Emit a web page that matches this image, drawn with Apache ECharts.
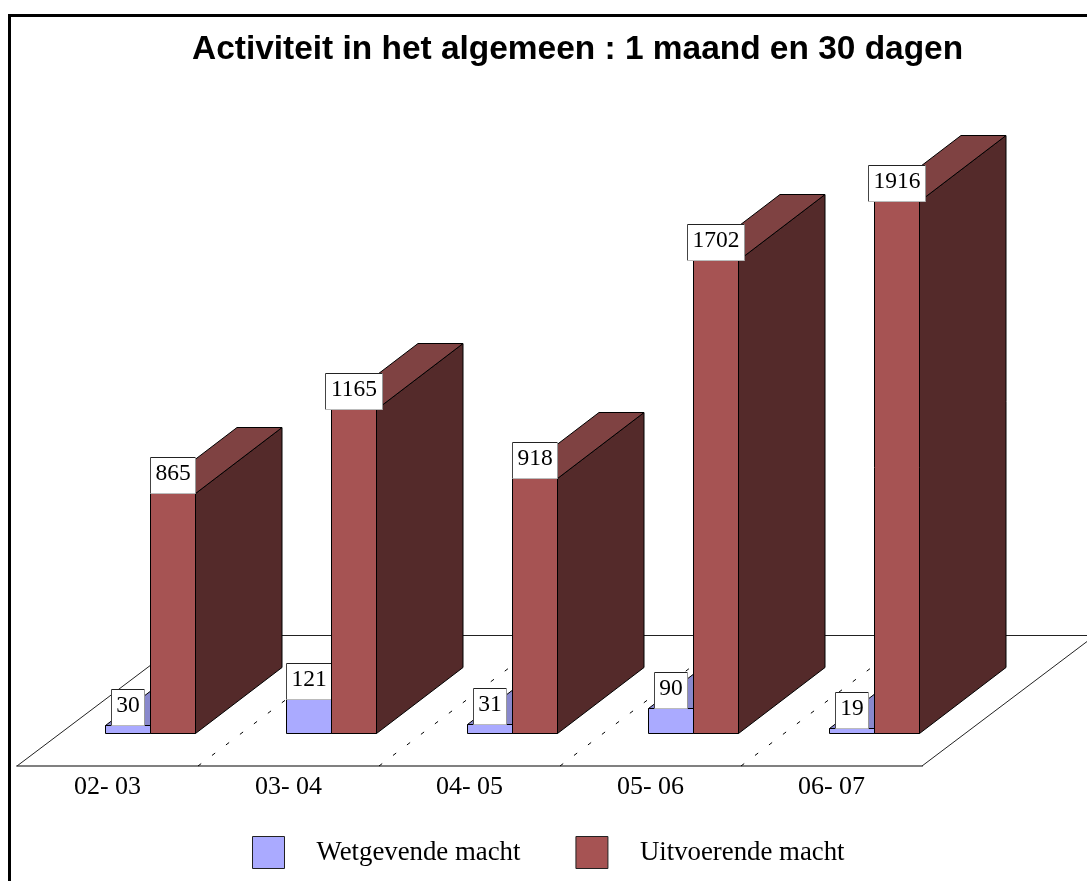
<!DOCTYPE html>
<html><head><meta charset="utf-8">
<style>html,body{margin:0;padding:0;background:#fff}#c{width:1087px;height:881px}</style>
<script src="https://cdn.jsdelivr.net/npm/echarts@6/dist/echarts.min.js"></script>
</head><body><div id="c"></div>
<script>
const titleText = 'Activiteit in het algemeen : 1 maand en 30 dagen';
const categories = ['02- 03', '03- 04', '04- 05', '05- 06', '06- 07'];
const wetgevende = [30, 121, 31, 90, 19];
const uitvoerende = [865, 1165, 918, 1702, 1916];
const seriesNames = ['Wetgevende macht', 'Uitvoerende macht'];

const SERIF = '"Liberation Serif","Times New Roman",serif';
const DEPTH_X = 86.5, DEPTH_Y = 66;    // box depth on screen
const SHIFT_X = 43, SHIFT_Y = 33;      // boxes stand mid-floor
const FLOOR_X = 173, FLOOR_Y = 130.5;  // floor depth on screen
const EDGE = '#000';

function poly(points, fill, z2) {
  return {type: 'polygon', shape: {points}, z2,
    style: {fill, stroke: EDGE, lineWidth: 1}};
}
function line(x1, y1, x2, y2, stroke, extra) {
  return {type: 'line', shape: {x1, y1, x2, y2}, z2: 30,
    style: Object.assign({stroke, lineWidth: 1, fill: null}, extra || {})};
}
function boxRenderer(side, shades) {
  return function (params, api) {
    const cat = api.value(0), val = api.value(1);
    const band = api.size([1, 0])[0];
    const w = Math.round(band * 0.25);
    const base = api.coord([cat, 0]);
    const top = api.coord([cat, val]);
    const x0 = base[0] + SHIFT_X + (side < 0 ? -w : 0), x1 = x0 + w;
    const yb = Math.round(base[1] - SHIFT_Y) + 0.5, yt = Math.round(top[1] - SHIFT_Y) + 0.5;
    const color = api.visual('color');
    const dx = DEPTH_X, dy = DEPTH_Y;
    const children = [
      poly([[x1, yb], [x1 + dx, yb - dy], [x1 + dx, yt - dy], [x1, yt]], shades.side, 1),
      poly([[x0, yt], [x1, yt], [x1 + dx, yt - dy], [x0 + dx, yt - dy]], shades.top, 2),
      poly([[x0, yb], [x1, yb], [x1, yt], [x0, yt]], color, 3)
    ];
    const txt = String(val);
    const lw = 9 + 12 * txt.length, lh = 36;
    const cx = (x0 + x1) / 2, lx = Math.floor(cx - lw / 2) + 0.5, ly = Math.round(yt - lh) - 0.5;
    children.push({type: 'rect', shape: {x: lx, y: ly, width: lw, height: lh}, z2: 20,
      style: {fill: '#fff', stroke: null}});
    children.push(line(lx, ly, lx + lw, ly, '#222'));
    children.push(line(lx, ly, lx, ly + lh, '#444'));
    children.push(line(lx + lw, ly, lx + lw, ly + lh, '#999'));
    children.push(line(lx, ly + lh, lx + lw, ly + lh, '#bbb'));
    children.push({type: 'text', z2: 40, style: {
      x: lx + lw / 2, y: ly + lh / 2 - 2, text: txt, align: 'center', verticalAlign: 'middle',
      fill: '#000', font: '23.5px ' + SERIF}});
    return {type: 'group', children};
  };
}
function floorRenderer(params, api) {
  const cat = api.value(0);
  const band = api.size([1, 0])[0];
  const c = api.coord([cat, 0]);
  const left = c[0] - band / 2, right = c[0] + band / 2, y = c[1];
  const fx = FLOOR_X, fy = FLOOR_Y;
  const children = [];
  if (cat === 0) children.push(line(left, y, left + fx, y - fy, '#222'));
  children.push(line(left + fx, y - fy, right + fx, y - fy, '#222'));
  if (cat === categories.length - 1) {
    children.push(line(right, y, right + fx, y - fy, '#222'));
  } else {
    children.push(line(right, y, right + fx, y - fy, '#000', {lineDash: [4, 13.5]}));
  }
  return {type: 'group', children};
}

const chart = echarts.init(document.getElementById('c'), null, {renderer: 'canvas'});
chart.setOption({
  animation: false,
  backgroundColor: '#fff',
  title: {text: titleText, left: 192, top: 33, padding: 0,
    textStyle: {fontFamily: '"Liberation Sans",Arial,sans-serif', fontWeight: 'bold', fontSize: 33.45, color: '#000'}},
  legend: {
    data: seriesNames, left: 252, top: 836, padding: 0, itemWidth: 32, itemHeight: 32, itemGap: 55, icon: 'rect',
    selectedMode: false,
    itemStyle: {borderColor: '#222', borderWidth: 1},
    textStyle: {fontFamily: SERIF, fontSize: 26.8, color: '#000', padding: [0, 0, 0, 27]}
  },
  grid: {left: 17, right: 165, top: 99.3, bottom: 115},
  xAxis: {type: 'category', data: categories,
    axisLine: {show: true, onZero: false, lineStyle: {color: '#808080', width: 2}},
    axisTick: {show: false},
    axisLabel: {margin: 8, interval: 0, fontFamily: SERIF, fontSize: 26, color: '#000'},
    splitLine: {show: false}},
  yAxis: {type: 'value', min: 0, max: 2400, interval: 400, show: false, splitLine: {show: false}},
  graphic: [
    {type: 'rect', shape: {x: 8, y: 14, width: 1079, height: 3}, style: {fill: '#000'}},
    {type: 'rect', shape: {x: 8, y: 14, width: 3, height: 867}, style: {fill: '#000'}}
  ],
  series: [
    {type: 'custom', name: 'vloer', z: 1, silent: true, clip: false,
      data: categories.map((c, i) => [i, 0]), encode: {x: 0, y: 1}, renderItem: floorRenderer},
    {type: 'custom', name: seriesNames[0], z: 2, clip: false, itemStyle: {color: '#AAAAFF'},
      data: wetgevende.map((v, i) => [i, v]), encode: {x: 0, y: 1},
      renderItem: boxRenderer(-1, {side: '#555580', top: '#8888CC'})},
    {type: 'custom', name: seriesNames[1], z: 3, clip: false, itemStyle: {color: '#A65353'},
      data: uitvoerende.map((v, i) => [i, v]), encode: {x: 0, y: 1},
      renderItem: boxRenderer(1, {side: '#542A2A', top: '#7F4242'})}
  ]
});
</script></body></html>
